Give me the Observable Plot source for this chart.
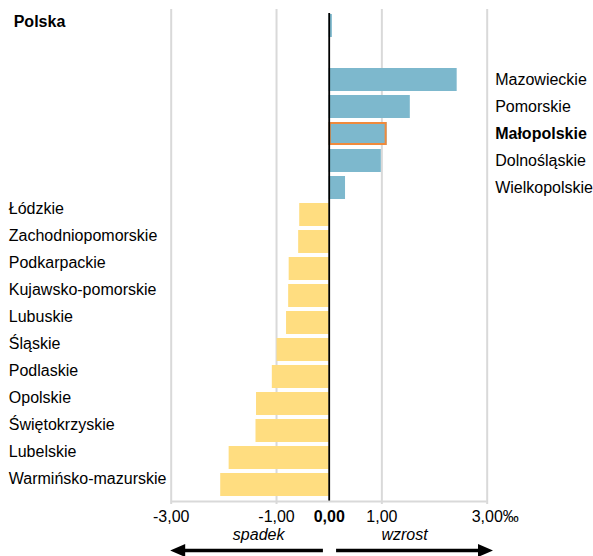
<!DOCTYPE html>
<html>
<head>
<meta charset="utf-8">
<script src="https://cdn.jsdelivr.net/npm/d3@7"></script>
<script src="https://cdn.jsdelivr.net/npm/@observablehq/plot@0.6"></script>
<style>
  html, body { margin: 0; padding: 0; background: #fff; }
  #chart svg { display: block; }
</style>
</head>
<body>
<div id="chart"></div>
<script>
// ---- data ----
const regions = ["Polska", " ", "Mazowieckie", "Pomorskie", "Małopolskie", "Dolnośląskie", "Wielkopolskie",
  "Łódzkie", "Zachodniopomorskie", "Podkarpackie", "Kujawsko-pomorskie", "Lubuskie", "Śląskie",
  "Podlaskie", "Opolskie", "Świętokrzyskie", "Lubelskie", "Warmińsko-mazurskie"];
const values = [0.06, null, 2.43, 1.54, 1.10, 0.99, 0.31,
  -0.56, -0.58, -0.76, -0.77, -0.81, -0.99,
  -1.08, -1.38, -1.39, -1.90, -2.06];
const xTicks = [-3, -1, 0, 1, 3];
const gridTicks = [-3, -1, 1, 3];
const highlight = "Małopolskie";
const total = "Polska";
const directionLabels = [{x: -1.34, text: "spadek"}, {x: 1.43, text: "wzrost"}];

const data = regions.map((r, i) => ({region: r, value: values[i]})).filter(d => d.value != null);
const pos = data.filter(d => d.value >= 0);
const neg = data.filter(d => d.value < 0);
const fmt = d => d3.format(".2f")(Math.abs(d)).replace(".", ",");
const tickText = d => (d < 0 ? "-" : "") + fmt(d);

const BLUE = "#7db8cd", YELLOW = "#ffdd80", ORANGE = "#f08a3c", GRID = "#d9d9d9";
const FS = 16;

const plot = Plot.plot({
  width: 593,
  height: 556,
  marginLeft: 170.7,
  marginRight: 106.3,
  marginTop: 9,
  marginBottom: 55,
  style: {fontFamily: "'Liberation Sans', Arial, sans-serif", fontSize: FS + "px", background: "#fff", color: "#000"},
  x: {domain: [-3, 3], axis: null},
  y: {domain: regions, axis: null, paddingInner: 0.137, paddingOuter: 0.07},
  marks: [
    Plot.ruleX(gridTicks, {x: d => d, stroke: GRID, strokeWidth: 2, insetBottom: -3}),
    Plot.barX(pos, {x: "value", y: "region", fill: BLUE}),
    Plot.barX(neg, {x: "value", y: "region", fill: YELLOW}),
    Plot.barX(data.filter(d => d.region === highlight), {x: "value", y: "region", fill: "none", stroke: ORANGE, strokeWidth: 2, inset: 1}),
    Plot.ruleX([0], {x: d => d, stroke: "#000", strokeWidth: 1.8, insetTop: 4}),
    // right labels (increase)
    Plot.text(pos.filter(d => d.region !== total && d.region !== highlight), {y: "region", text: "region", frameAnchor: "right", textAnchor: "start", dx: 8, fontSize: FS}),
    Plot.text(pos.filter(d => d.region === highlight), {y: "region", text: "region", frameAnchor: "right", textAnchor: "start", dx: 8, fontSize: FS, fontWeight: "bold"}),
    // left labels (decrease)
    Plot.text(neg, {y: "region", text: "region", frameAnchor: "left", textAnchor: "start", dx: -162.4, dy: -6, fontSize: FS}),
    // Polska
    Plot.text(data.filter(d => d.region === total), {y: "region", text: "region", frameAnchor: "left", textAnchor: "start", dx: -157.5, dy: -4, fontSize: FS, fontWeight: "bold"}),
    // tick labels
    Plot.text(xTicks.filter(d => d !== 0 && d !== 3), {x: d => d, text: tickText, frameAnchor: "bottom", dy: 20, fontSize: FS}),
    Plot.text(xTicks.filter(d => d === 0), {x: d => d, text: tickText, frameAnchor: "bottom", dy: 20, fontSize: FS, fontWeight: "bold"}),
    Plot.text(xTicks.filter(d => d === 3), {x: d => d, text: d => tickText(d) + "‰", frameAnchor: "bottom", textAnchor: "start", dx: -15.5, dy: 20, fontSize: FS}),
    // direction labels
    Plot.text(directionLabels, {x: "x", text: "text", frameAnchor: "bottom", dy: 38, fontSize: FS, fontStyle: "italic"})
  ]
});

document.getElementById("chart").appendChild(plot);

// axis baseline and direction arrows, positioned with the plot's x scale
const xs = plot.scale("x");
const svg = d3.select(plot);
const yBase = 556 - 55;
svg.append("line")
  .attr("x1", xs.apply(-3)).attr("x2", xs.apply(3))
  .attr("y1", yBase + 0.5).attr("y2", yBase + 0.5)
  .attr("stroke", GRID).attr("stroke-width", 2);

const ay = yBase + 49.5;
function arrow(from, to) {
  const x1 = xs.apply(from), x2 = xs.apply(to);
  const dir = Math.sign(x2 - x1);
  const head = 15, half = 6.5;
  svg.append("line")
    .attr("x1", x1).attr("x2", x2 - dir * head + dir)
    .attr("y1", ay).attr("y2", ay)
    .attr("stroke", "#000").attr("stroke-width", 3.3);
  svg.append("path")
    .attr("d", `M${x2},${ay}L${x2 - dir * head},${ay - half}L${x2 - dir * head},${ay + half}Z`)
    .attr("fill", "#000");
}
arrow(-0.11, -3.01);
arrow(0.14, 3.12);
</script>
</body>
</html>
